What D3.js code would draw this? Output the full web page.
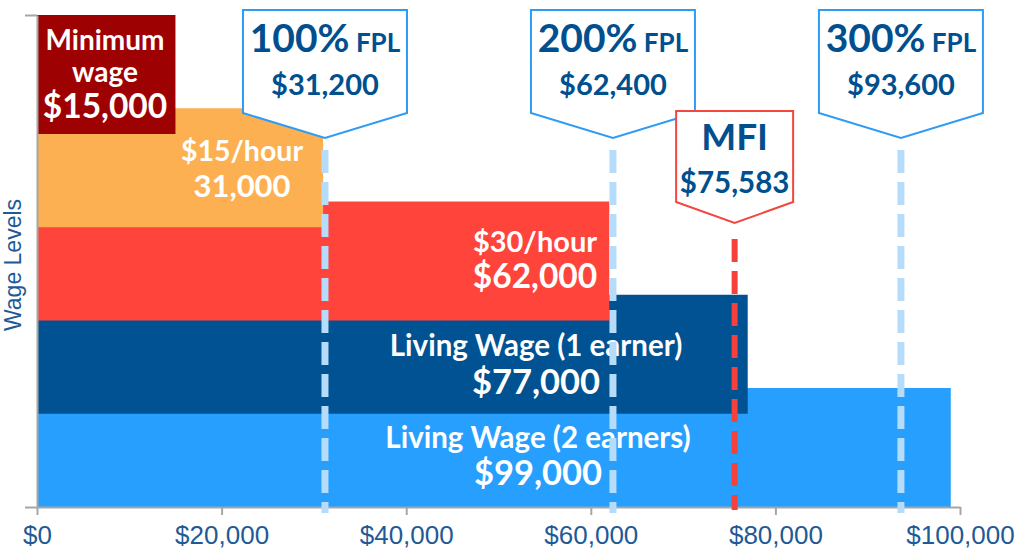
<!DOCTYPE html>
<html>
<head>
<meta charset="utf-8">
<script src="https://cdn.jsdelivr.net/npm/d3@7"></script>
<style>
  html, body { margin: 0; padding: 0; background: #fff; }
  svg { display: block; }
  .bar-text { font-family: Lato, "Open Sans", sans-serif; font-weight: 700; fill: #fff; text-anchor: middle; }
  .call-text { font-family: Lato, "Open Sans", sans-serif; font-weight: 700; fill: #00508f; text-anchor: middle; }
  .axis text { font-family: "Liberation Sans", Arial, sans-serif; font-size: 26px; fill: #1f5a96; }
  .axis path, .axis line { stroke: #a6a6a6; stroke-width: 2; }
</style>
</head>
<body>
<svg id="chart" width="1016" height="553"></svg>
<script>
// Wage levels, bottom bar first (drawn first, so higher bars overlap it).
const wageNames = ["Living Wage (2 earners)", "Living Wage (1 earner)", "$30/hour", "$15/hour", "Minimum wage"];
const wageValues = [99000, 77000, 62000, 31000, 15000];
const wageValueText = ["$99,000", "$77,000", "$62,000", "31,000", "$15,000"];

// Federal poverty level markers + median family income.
const fplNames = ["100%", "200%", "300%"];
const fplValues = [31200, 62400, 93600];
const fplValueText = ["$31,200", "$62,400", "$93,600"];
const mfiName = "MFI";
const mfiValue = 75583;
const mfiValueText = "$75,583";

const xTicks = [0, 20000, 40000, 60000, 80000, 100000];

// styling / layout, kept apart from the data
const barColors = ["#269ffe", "#005292", "#ff443b", "#fdb052", "#9e0101"];
const labelStyle = [
  { cx: 538, dy: [60, 97], size: [29.5, 34.5], lines: 1 },
  { cx: 536, dy: [61, 99], size: [29.5, 34.5], lines: 1 },
  { cx: 535, dy: [50, 86], size: [29, 33.5], lines: 1 },
  { cx: 242, dy: [53, 89], size: [28.5, 31], lines: 1 },
  { cx: 105, dy: [35, 67, 103], size: [28, 33.5], lines: 2 },
];

const svg = d3.select("#chart");

const x = d3.scaleLinear().domain([0, 100000]).range([37, 960]);
const order = wageNames.slice().reverse(); // top to bottom
const yTop = d3.scalePoint().domain(order).range([15, 388]);
const barH = 507 - yTop(order[order.length - 1]);

const rows = wageNames.map((n, i) => ({ name: n, value: wageValues[i], text: wageValueText[i], color: barColors[i], st: labelStyle[i] }));

// bars
svg.append("g").selectAll("rect")
  .data(rows)
  .join("rect")
  .attr("x", x(0))
  .attr("y", (d) => yTop(d.name))
  .attr("width", (d) => x(d.value) - x(0))
  .attr("height", barH)
  .attr("fill", (d) => d.color);

// bar labels
rows.forEach((d) => {
  const g = svg.append("g");
  const top = yTop(d.name);
  const nameLines = d.st.lines === 2 ? d.name.split(" ") : [d.name];
  nameLines.forEach((t, j) => {
    g.append("text").attr("class", "bar-text")
      .attr("x", d.st.cx).attr("y", top + d.st.dy[j])
      .style("font-size", d.st.size[0] + "px").text(t);
  });
  g.append("text").attr("class", "bar-text")
    .attr("x", d.st.cx).attr("y", top + d.st.dy[nameLines.length])
    .style("font-size", d.st.size[1] + "px").text(d.text);
});

// axes
const yAx = d3.scaleLinear().domain([0, 1]).range([507, 15]);
svg.append("g").attr("class", "axis")
  .attr("transform", `translate(${x(0)},0)`)
  .call(d3.axisLeft(yAx).tickValues([0, 1]).tickSize(12).tickSizeOuter(0).tickFormat(""));

svg.append("g").attr("class", "axis")
  .attr("transform", "translate(0,507)")
  .call(d3.axisBottom(x).tickValues(xTicks).tickSize(8).tickSizeOuter(0)
    .tickFormat((d) => "$" + d3.format(",")(d)))
  .call((g) => g.selectAll("text").attr("dy", "1.0em"));

svg.append("text")
  .attr("transform", "translate(21,265) rotate(-90)")
  .attr("text-anchor", "middle")
  .style("font-family", "'Liberation Sans', Arial, sans-serif")
  .style("font-size", "23px")
  .style("fill", "#1f5a96")
  .text("Wage Levels");

// dashed marker lines
const fpl = fplNames.map((n, i) => ({ name: n, value: fplValues[i], text: fplValueText[i] }));
svg.append("g").selectAll("line")
  .data(fpl)
  .join("line")
  .attr("x1", (d) => x(d.value)).attr("x2", (d) => x(d.value))
  .attr("y1", 150).attr("y2", 513)
  .attr("stroke", "#b6dcfb").attr("stroke-width", 7)
  .attr("stroke-dasharray", "23,9");

svg.append("line")
  .attr("x1", x(mfiValue)).attr("x2", x(mfiValue))
  .attr("y1", 239).attr("y2", 510)
  .attr("stroke", "#f5413c").attr("stroke-width", 6)
  .attr("stroke-dasharray", "23,9");

// callout shapes: box with a pointer at the bottom
function callout(cx, top, shoulder, tip, w) {
  const h = w / 2;
  return `M${cx - h},${top}H${cx + h}V${shoulder}L${cx},${tip}L${cx - h},${shoulder}Z`;
}

const fplG = svg.append("g").selectAll("g").data(fpl).join("g");
fplG.append("path")
  .attr("d", (d) => callout(x(d.value), 10, 113, 138, 164))
  .attr("fill", "#fff").attr("stroke", "#2e9bf5").attr("stroke-width", 2);
fplG.append("text").attr("class", "call-text")
  .attr("x", (d) => x(d.value)).attr("y", 52)
  .call((t) => {
    t.append("tspan").style("font-size", "39px").text((d) => d.name);
    t.append("tspan").style("font-size", "26px").text(" FPL");
  });
fplG.append("text").attr("class", "call-text")
  .attr("x", (d) => x(d.value)).attr("y", 95)
  .style("font-size", "29px").text((d) => d.text);

const mfiG = svg.append("g");
mfiG.append("path")
  .attr("d", callout(x(mfiValue), 111, 202, 223, 117))
  .attr("fill", "#fff").attr("stroke", "#f2463e").attr("stroke-width", 2);
mfiG.append("text").attr("class", "call-text")
  .attr("x", x(mfiValue)).attr("y", 150)
  .style("font-size", "37px").text(mfiName);
mfiG.append("text").attr("class", "call-text")
  .attr("x", x(mfiValue)).attr("y", 193)
  .style("font-size", "29.5px").text(mfiValueText);
</script>
</body>
</html>
